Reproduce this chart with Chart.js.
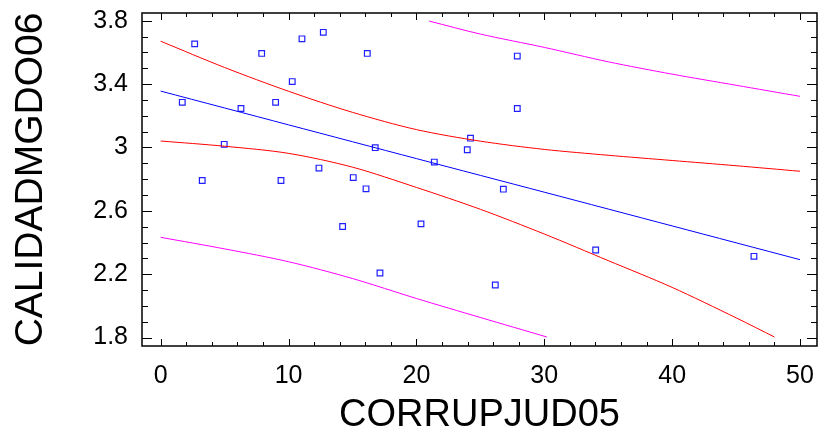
<!DOCTYPE html>
<html lang="es">
<head>
<meta charset="UTF-8">
<title>CALIDADMGDO06 vs CORRUPJUD05</title>
<script src="https://cdn.jsdelivr.net/npm/chart.js"></script>
<style>
    body { margin: 0; background: #ffffff; }
    #wrap { width: 819px; height: 434px; }
</style>
</head>
<body>
<div id="wrap"><canvas id="regChart" width="819" height="434"></canvas></div>
<script>
// observed points
const corrupjud05 = [2.66, 1.69, 3.25, 4.97, 6.28, 7.90, 8.99, 9.41, 10.29, 11.05, 12.38, 12.72, 14.23, 15.06,
    16.16, 16.06, 16.78, 17.15, 20.36, 21.40, 23.98, 24.23, 26.17, 26.80, 27.89, 27.89, 34.02, 46.40];
const calidadmgdo06 = [3.654, 3.285, 2.792, 3.020, 3.246, 3.594, 3.285, 2.792, 3.416, 3.686, 2.870, 3.727, 2.501, 2.810,
    3.594, 2.739, 2.999, 2.208, 2.518, 2.908, 2.986, 3.059, 2.132, 2.737, 3.577, 3.246, 2.353, 2.313];

// fitted line
const fitX = [0, 10, 20, 30, 40, 50];
const fitY = [3.356, 3.143, 2.930, 2.718, 2.505, 2.292];

// confidence limits (red)
const confUpX = [0, 5, 10, 15, 20, 25, 30, 35, 40, 45, 50];
const confUpY = [3.671, 3.505, 3.355, 3.222, 3.113, 3.040, 2.988, 2.951, 2.918, 2.885, 2.850];
const confLoX = [0, 5, 10, 15, 20, 25, 30, 35, 40, 45, 48];
const confLoY = [3.041, 3.008, 2.963, 2.876, 2.748, 2.610, 2.454, 2.286, 2.117, 1.925, 1.804];

// prediction limits (magenta)
const predUpX = [21, 25, 30, 35, 40, 45, 50];
const predUpY = [3.798, 3.716, 3.632, 3.541, 3.463, 3.393, 3.323];
const predLoX = [0, 5, 10, 15, 20, 25, 30.2];
const predLoY = [2.433, 2.360, 2.279, 2.173, 2.047, 1.927, 1.804];

// axis ticks
const xTicks = [0, 10, 20, 30, 40, 50];
const yTicks = [1.8, 2.2, 2.6, 3, 3.4, 3.8];
const xMinorStep = 2;
const yMinorStep = 0.1;

const toPts = (xs, ys) => xs.map((x, i) => ({ x: x, y: ys[i] }));

function curve(xs, ys, color) {
    return {
        data: toPts(xs, ys),
        showLine: true,
        borderColor: color,
        borderWidth: 1,
        pointRadius: 0,
        fill: false,
        tension: 0.3
    };
}

// frame with inward ticks on all four sides
const framePlugin = {
    id: 'frame',
    afterDatasetsDraw(chart) {
        const { ctx, chartArea: a, scales: { x, y } } = chart;
        ctx.save();
        ctx.strokeStyle = '#000';
        ctx.lineWidth = 1;
        ctx.beginPath();
        for (let v = xTicks[0]; v <= xTicks[xTicks.length - 1] + 0.001; v += xMinorStep) {
            const px = Math.round(x.getPixelForValue(v)) + 0.5;
            const len = xTicks.some(t => Math.abs(t - v) < 0.001) ? 7 : 4;
            ctx.moveTo(px, a.bottom); ctx.lineTo(px, a.bottom - len);
            ctx.moveTo(px, a.top); ctx.lineTo(px, a.top + len);
        }
        for (let v = yTicks[0]; v <= yTicks[yTicks.length - 1] + 0.001; v += yMinorStep) {
            const py = Math.round(y.getPixelForValue(v)) + 0.5;
            const len = yTicks.some(t => Math.abs(t - v) < 0.001) ? 10 : 6;
            ctx.moveTo(a.left, py); ctx.lineTo(a.left + len, py);
            ctx.moveTo(a.right, py); ctx.lineTo(a.right - len, py);
        }
        ctx.stroke();
        ctx.lineWidth = 1.5;
        ctx.strokeRect(a.left, a.top, a.right - a.left, a.bottom - a.top);
        ctx.restore();
    }
};

Chart.defaults.font.family = '"Liberation Sans", Arial, sans-serif';
Chart.defaults.color = '#000';

new Chart(document.getElementById('regChart'), {
    type: 'scatter',
    data: {
        datasets: [
            curve(predUpX, predUpY, '#ff00ff'),
            curve(predLoX, predLoY, '#ff00ff'),
            curve(confUpX, confUpY, '#ff0000'),
            curve(confLoX, confLoY, '#ff0000'),
            curve(fitX, fitY, '#0000ff'),
            {
                data: toPts(corrupjud05, calidadmgdo06),
                pointStyle: 'rect',
                pointRadius: 4,
                borderColor: '#1f1fff',
                backgroundColor: 'rgba(0,0,0,0)',
                borderWidth: 1.2
            }
        ]
    },
    options: {
        responsive: false,
        animation: false,
        layout: { autoPadding: false, padding: { top: 13, right: 2, left: 0, bottom: 0 } },
        plugins: { legend: { display: false }, tooltip: { enabled: false } },
        scales: {
            x: {
                type: 'linear',
                min: -1.46,
                max: 51.33,
                afterBuildTicks: s => { s.ticks = xTicks.map(v => ({ value: v })); },
                afterFit: s => { s.height = 88; s.paddingLeft = 0; s.paddingRight = 0; },
                grid: { display: false, drawTicks: false },
                border: { display: false },
                ticks: { font: { size: 25 }, padding: 15, maxRotation: 0, autoSkip: false, callback: v => String(v) },
                title: { display: true, text: 'CORRUPJUD05', font: { size: 38 }, padding: { top: 0, bottom: -4 } }
            },
            y: {
                type: 'linear',
                min: 1.747,
                max: 3.849,
                afterBuildTicks: s => { s.ticks = yTicks.map(v => ({ value: v })); },
                afterFit: s => { s.width = 142; s.paddingTop = 0; s.paddingBottom = 0; },
                grid: { display: false, drawTicks: false },
                border: { display: false },
                ticks: { font: { size: 25 }, padding: 14, autoSkip: false, callback: v => String(v) },
                title: { display: true, text: 'CALIDADMGDO06', font: { size: 39 }, padding: { top: 8 } }
            }
        }
    },
    plugins: [framePlugin]
});
</script>
</body>
</html>
